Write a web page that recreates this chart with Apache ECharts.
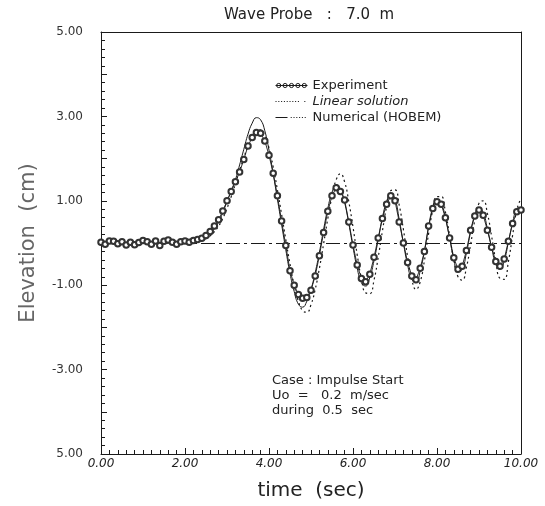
<!DOCTYPE html>
<html><head><meta charset="utf-8">
<script src="https://cdn.jsdelivr.net/npm/echarts@6/dist/echarts.min.js"></script>
<style>html,body{margin:0;padding:0;background:#fff}#c{width:545px;height:506px}</style>
</head><body><div id="c"></div>
<script>
const times = [0.0,0.1,0.2,0.3,0.4,0.5,0.6,0.7,0.8,0.9,1.0,1.1,1.2,1.3,1.4,1.5,1.6,1.7,1.8,1.9,2.0,2.1,2.2,2.3,2.4,2.5,2.6,2.7,2.8,2.9,3.0,3.1,3.2,3.3,3.4,3.5,3.6,3.7,3.8,3.9,4.0,4.1,4.2,4.3,4.4,4.5,4.6,4.7,4.8,4.9,5.0,5.1,5.2,5.3,5.4,5.5,5.6,5.7,5.8,5.9,6.0,6.1,6.2,6.3,6.4,6.5,6.6,6.7,6.8,6.9,7.0,7.1,7.2,7.3,7.4,7.5,7.6,7.7,7.8,7.9,8.0,8.1,8.2,8.3,8.4,8.5,8.6,8.7,8.8,8.9,9.0,9.1,9.2,9.3,9.4,9.5,9.6,9.7,9.8,9.9,10.0];

const experiment = [0.02,-0.03,0.05,0.04,-0.02,0.03,-0.05,0.02,-0.04,0.01,0.06,0.03,-0.03,0.05,-0.06,0.04,0.07,0.02,-0.03,0.03,0.05,0.02,0.06,0.08,0.11,0.18,0.27,0.40,0.55,0.76,1.00,1.22,1.45,1.68,1.98,2.30,2.50,2.62,2.60,2.42,2.08,1.65,1.12,0.52,-0.06,-0.66,-1.00,-1.22,-1.31,-1.29,-1.12,-0.78,-0.30,0.25,0.75,1.12,1.31,1.22,1.02,0.50,-0.05,-0.52,-0.84,-0.92,-0.74,-0.34,0.12,0.58,0.92,1.12,1.00,0.50,0.00,-0.46,-0.78,-0.87,-0.60,-0.20,0.40,0.82,0.98,0.92,0.60,0.12,-0.35,-0.62,-0.55,-0.18,0.30,0.64,0.78,0.66,0.30,-0.10,-0.44,-0.55,-0.38,0.04,0.46,0.74,0.78];

const linearSolution = [0,0,0,0,0,0,0,0,0,0,0,0,0,0,0,0,0,0,0,0,0,0.01,0.01,0.02,0.05,0.10,0.17,0.27,0.40,0.58,0.82,1.10,1.40,1.72,2.02,2.30,2.52,2.66,2.68,2.55,2.25,1.80,1.26,0.68,0.08,-0.50,-1.00,-1.38,-1.60,-1.64,-1.46,-1.10,-0.60,-0.02,0.58,1.10,1.50,1.64,1.45,0.98,0.38,-0.28,-0.84,-1.18,-1.20,-0.88,-0.34,0.28,0.86,1.24,1.26,0.90,0.32,-0.32,-0.86,-1.10,-0.92,-0.42,0.22,0.78,1.10,1.10,0.74,0.18,-0.40,-0.80,-0.88,-0.58,-0.04,0.54,0.94,1.00,0.70,0.16,-0.42,-0.84,-0.86,-0.44,0.18,0.78,1.06];

const numericalHOBEM = [0,0,0,0,0,0,0,0,0,0,0,0,0,0,0,0,0,0,0.01,0.01,0.01,0.02,0.02,0.04,0.08,0.14,0.22,0.34,0.50,0.72,0.98,1.24,1.50,1.85,2.22,2.58,2.84,2.97,2.92,2.66,2.20,1.64,1.04,0.44,-0.16,-0.72,-1.15,-1.45,-1.52,-1.38,-1.10,-0.70,-0.22,0.32,0.82,1.20,1.38,1.28,0.96,0.46,-0.10,-0.60,-0.94,-1.02,-0.82,-0.42,0.08,0.60,0.98,1.18,1.04,0.56,0.00,-0.52,-0.86,-0.94,-0.66,-0.20,0.38,0.84,1.02,0.94,0.60,0.12,-0.38,-0.68,-0.62,-0.24,0.26,0.66,0.84,0.72,0.34,-0.10,-0.50,-0.62,-0.42,0.02,0.48,0.80,0.84];

const xTickValues = [0,2,4,6,8,10];
const xTickLabels = ['0.00','2.00','4.00','6.00','8.00','10.00'];
const yTickValues = [5,3,1,-1,-3,-5];
const yTickLabels = ['5.00','3.00','1.00','-1.00','-3.00','5.00'];

const seriesNames = ['Experiment','Linear solution','Numerical (HOBEM)'];
const titleText = 'Wave Probe   :   7.0  m';
const noteLines = ['Case : Impulse Start','Uo  =   0.2  m/sec','during  0.5  sec'];

function pairs(vals){ return times.map((t,i)=>[t, vals[i]]); }

function circ(cx, cy, r){ return 'M'+(cx-r)+','+cy+' a'+r+','+r+' 0 1,0 '+(2*r)+',0 a'+r+','+r+' 0 1,0 '+(-2*r)+',0 Z '; }
function dot(x){ return 'M'+x+',4.4 h1.3 v1.3 h-1.3 Z '; }
const frameBox = 'M0,0 L0.01,0 Z M40,10 L40.01,10 Z ';
let expIcon = 'path://' + frameBox + 'M0,5 L40,5 ';
[4,12,20,28,36].forEach(x=>{ expIcon += circ(x,5,2.6); });
let linIcon = 'path://' + frameBox;
[0,3.5,7,10.5,14,17.5,21,24.5,28,36].forEach(x=>{ linIcon += dot(x); });
let numIcon = 'path://' + frameBox + 'M0,4.5 h15 v1 h-15 Z ';
[19,22.5,26,29.5,33,36.5].forEach(x=>{ numIcon += dot(x); });

const FONT = 'DejaVu Sans';
const INK = '#1a1a1a';
const chart = echarts.init(document.getElementById('c'), null, {renderer:'canvas'});
chart.setOption({
  animation:false,
  backgroundColor:'#fff',
  textStyle:{fontFamily:FONT},
  title:{text:titleText, left:219, top:3, textStyle:{fontFamily:FONT, fontSize:15, fontWeight:'normal', color:'#222'}},
  grid:{left:101, right:24, top:32, bottom:52, show:false},
  legend:{
    orient:'vertical', left:270, top:74, itemGap:3, itemWidth:32, itemHeight:10,
    textStyle:{fontFamily:FONT, fontSize:13, color:'#222'},
    data:[
      {name:seriesNames[0], icon:expIcon, itemStyle:{color:'#fff', borderColor:INK, borderWidth:1}},
      {name:seriesNames[1], icon:linIcon, itemStyle:{color:INK, borderWidth:0}, textStyle:{fontStyle:'italic'}},
      {name:seriesNames[2], icon:numIcon, itemStyle:{color:INK, borderWidth:0}}
    ]
  },
  xAxis:[{
    type:'value', min:0, max:10, interval:2, position:'bottom',
    name:'time  (sec)', nameLocation:'middle', nameGap:27,
    nameTextStyle:{fontFamily:FONT, fontSize:20, color:'#222'},
    axisLine:{show:true, onZero:false, lineStyle:{color:INK}},
    axisTick:{show:true, inside:true, length:6, lineStyle:{color:INK, width:1}},
    minorTick:{show:true, splitNumber:10, length:4, lineStyle:{color:INK, width:1}},
    splitLine:{show:false},
    axisLabel:{margin:4, fontFamily:FONT, fontSize:12, fontStyle:'italic', color:'#222',
      formatter:v=>{const i=xTickValues.indexOf(v); return i>=0?xTickLabels[i]:'';}}
  },{
    type:'value', min:0, max:10, interval:2, position:'top',
    axisLine:{show:true, onZero:false, lineStyle:{color:INK}},
    axisTick:{show:false}, axisLabel:{show:false}, splitLine:{show:false}
  }],
  yAxis:[{
    type:'value', min:-5, max:5, interval:1, position:'left',
    name:'Elevation  (cm)', nameLocation:'middle', nameGap:62,
    nameTextStyle:{fontFamily:FONT, fontSize:21, color:'#666'},
    axisLine:{show:true, onZero:false, lineStyle:{color:INK}},
    axisTick:{show:true, inside:true, length:6, lineStyle:{color:INK, width:1}},
    minorTick:{show:true, splitNumber:5, length:4, lineStyle:{color:INK, width:1}},
    splitLine:{show:false},
    axisLabel:{margin:18, fontFamily:FONT, fontSize:12, color:'#333',
      formatter:v=>{const i=yTickValues.indexOf(v); return i>=0?yTickLabels[i]:'';}}
  },{
    type:'value', min:-5, max:5, interval:1, position:'right',
    axisLine:{show:true, onZero:false, lineStyle:{color:INK}},
    axisTick:{show:false}, axisLabel:{show:false}, splitLine:{show:false}
  }],
  graphic:[{
    type:'text', left:272, top:373,
    style:{text:noteLines.join('\n'), font:'13px "DejaVu Sans"', fill:'#222', lineHeight:15}
  }],
  series:[
    {name:seriesNames[0], type:'line', data:pairs(experiment), symbol:'emptyCircle', symbolSize:5.5,
     showSymbol:true, showAllSymbol:true, smooth:false,
     lineStyle:{color:INK, width:0.9}, itemStyle:{color:'#333', borderWidth:0.8}, z:5,
     markLine:{silent:true, symbol:'none', label:{show:false},
       lineStyle:{color:INK, width:1, type:[14,4,3,4]}, data:[{yAxis:0}]}},
    {name:seriesNames[1], type:'line', data:pairs(linearSolution), symbol:'none', showSymbol:false, smooth:true,
     lineStyle:{color:INK, width:1.2, type:[2,3]}, itemStyle:{color:INK}},
    {name:seriesNames[2], type:'line', data:pairs(numericalHOBEM), symbol:'none', showSymbol:false, smooth:true,
     lineStyle:{color:INK, width:1}, itemStyle:{color:INK}}
  ]
});
</script></body></html>
